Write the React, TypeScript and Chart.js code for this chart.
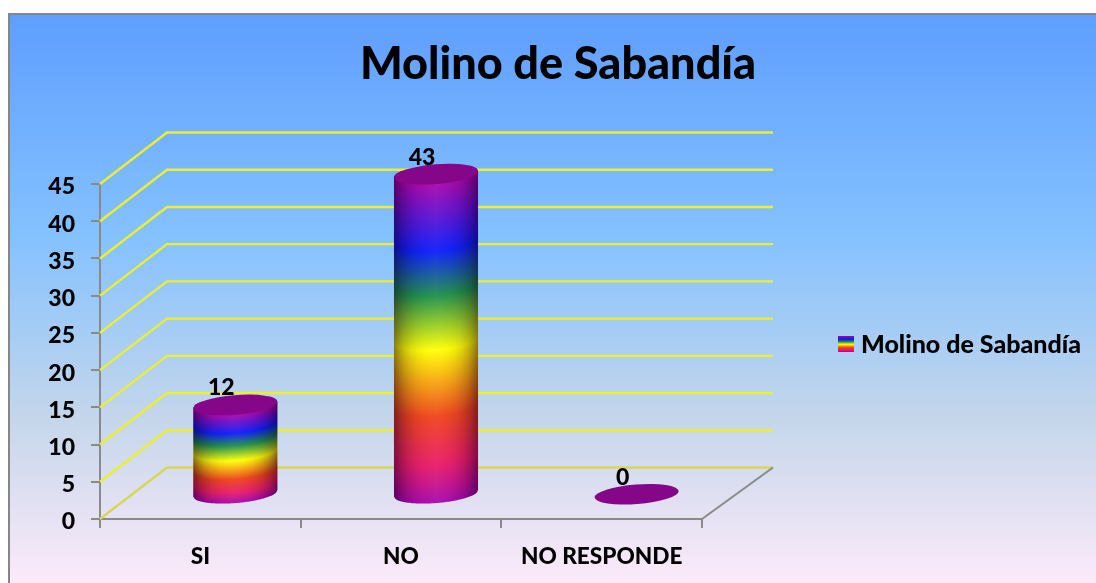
import React, { useEffect, useRef } from "react";
import { Chart, registerables } from "chart.js";

Chart.register(...registerables);

const categories = ["SI", "NO", "NO RESPONDE"];
const seriesName = "Molino de Sabandía";
const values = [12, 43, 0];
const rainbowOffsets = [0, 0.21, 0.35, 0.52, 0.73, 0.88, 1];
const rainbowColors = ["#A603AB", "#0819FB", "#1A8D48", "#FFFF00", "#EE3F17", "#E81766", "#A603AB"];
const backOffsets = [0, 0.39, 0.7, 1];
const backColors = ["#5E9EFF", "#85C2FF", "#C4D6EB", "#FFEBFA"];

const FONT = "Lato, Carlito, Calibri, sans-serif";
const GRAY = "#8a8a8a";
const DEPTH_X = 67;
const DEPTH_Y = 51.5;
const CYL_DX = 35;
const CYL_DY = 24.75;
const ELLIPSE_RY = 9.8;
const TILT = -0.08;

function rainbow(ctx: CanvasRenderingContext2D, y0: number, y1: number) {
  const g = ctx.createLinearGradient(0, y0, 0, y1);
  rainbowOffsets.forEach((o, i) => g.addColorStop(o, rainbowColors[i]));
  return g;
}

function ellipseYs(x: number, a: number, b: number, t: number) {
  const s = Math.sin(t), c = Math.cos(t);
  const A = (s * s) / (a * a) + (c * c) / (b * b);
  const B = 2 * x * c * s * (1 / (a * a) - 1 / (b * b));
  const C = x * x * ((c * c) / (a * a) + (s * s) / (b * b)) - 1;
  const d = Math.sqrt(Math.max(0, B * B - 4 * A * C));
  return { up: (-B - d) / (2 * A), low: (-B + d) / (2 * A) };
}

function drawCylinder(ctx: CanvasRenderingContext2D, cx: number, yTop: number, yBase: number, rx: number) {
  const a = rx, b = ELLIPSE_RY, t = TILT;
  const W = Math.sqrt(a * a * Math.cos(t) ** 2 + b * b * Math.sin(t) ** 2);
  if (yBase - yTop > 0.5) {
    ctx.save();
    ctx.beginPath();
    const N = 60;
    for (let i = 0; i <= N; i++) {
      const dx = -W + (2 * W * i) / N;
      const y = yTop + ellipseYs(dx, a, b, t).up;
      if (i === 0) ctx.moveTo(cx + dx, y); else ctx.lineTo(cx + dx, y);
    }
    for (let i = N; i >= 0; i--) {
      const dx = -W + (2 * W * i) / N;
      ctx.lineTo(cx + dx, yBase + ellipseYs(dx, a, b, t).low);
    }
    ctx.closePath();
    ctx.clip();
    const x0 = Math.floor(cx - W), x1 = Math.ceil(cx + W);
    for (let x = x0; x <= x1; x++) {
      const dx = Math.max(-W, Math.min(W, x + 0.5 - cx));
      const y0 = yTop + ellipseYs(dx, a, b, t).low;
      const y1 = yBase + ellipseYs(dx, a, b, t).low;
      ctx.fillStyle = rainbow(ctx, y0, y1);
      ctx.fillRect(x, y0 - 12, 1, y1 - y0 + 24);
      const k = Math.abs(dx) / W;
      ctx.fillStyle = `rgba(20,0,30,${0.5 * Math.pow(k, 2.6)})`;
      ctx.fillRect(x, y0 - 12, 1, y1 - y0 + 24);
      ctx.fillStyle = `rgba(255,255,255,${0.07 * (1 - k)})`;
      ctx.fillRect(x, y0 - 12, 1, y1 - y0 + 24);
    }
    ctx.restore();
  }
  ctx.beginPath();
  ctx.ellipse(cx, yTop, a, b, t, 0, Math.PI * 2);
  ctx.fillStyle = "#86068A";
  ctx.fill();
}

const scene3d = {
  id: "scene3d",
  beforeDraw(chart: any) {
    const ctx = chart.ctx;
    ctx.save();
    ctx.fillStyle = "#ffffff";
    ctx.fillRect(0, 0, chart.width, chart.height);
    const g = ctx.createLinearGradient(0, 15, 0, 590);
    backOffsets.forEach((o, i) => g.addColorStop(o, backColors[i]));
    ctx.fillStyle = g;
    ctx.fillRect(9, 14, chart.width, chart.height);
    ctx.fillStyle = "#868686";
    ctx.fillRect(8, 13, chart.width, 2);
    ctx.fillRect(8, 13, 2, chart.height);
    ctx.restore();
    chart.scales.y.getLabelItems(chart.chartArea).forEach((it: any) => {
      it.options.translation = [it.options.translation[0], it.options.translation[1] + 3];
    });
  },
  afterLayout(chart: any) {
    const lg = chart.legend;
    const h = lg.height;
    lg.left = 826.5; lg.right = chart.width;
    lg.top = 345 - h / 2; lg.bottom = lg.top + h;
    const tt = chart.titleBlock;
    tt.left = 20; tt.right = chart.width;
  },
  beforeDatasetsDraw(chart: any) {
    const ctx = chart.ctx;
    const { x, y } = chart.scales;
    ctx.save();
    ctx.lineWidth = 2.4;
    y.ticks.forEach((tk: any) => {
      const py = y.getPixelForValue(tk.value);
      ctx.strokeStyle = tk.value === 0 ? "#d8d65a" : "#eeee30";
      ctx.beginPath();
      ctx.moveTo(x.left, py);
      ctx.lineTo(x.left + DEPTH_X, py - DEPTH_Y);
      ctx.lineTo(x.right + DEPTH_X + 4, py - DEPTH_Y);
      ctx.stroke();
    });
    ctx.strokeStyle = GRAY;
    ctx.lineWidth = 2;
    ctx.beginPath();
    ctx.moveTo(x.right, y.bottom);
    ctx.lineTo(x.right + DEPTH_X + 4, y.bottom - DEPTH_Y);
    ctx.stroke();
    ctx.restore();
  },
  afterDatasetsDraw(chart: any) {
    const ctx = chart.ctx;
    const meta = chart.getDatasetMeta(0);
    meta.data.forEach((bar: any) => {
      drawCylinder(ctx, bar.x + CYL_DX, bar.y - CYL_DY, bar.base - CYL_DY, bar.width / 2);
    });
    ctx.save();
    ctx.fillStyle = "#000";
    ctx.font = `900 23px ${FONT}`;
    ctx.textAlign = "center";
    ctx.textBaseline = "middle";
    meta.data.forEach((bar: any, i: number) => {
      ctx.fillText(String(values[i]), bar.x + CYL_DX - 14, bar.y - CYL_DY - 17);
    });
    ctx.restore();
  },
  afterDraw(chart: any) {
    const ctx = chart.ctx;
    const h = chart.legend.legendHitBoxes[0];
    const cy = 344;
    ctx.save();
    ctx.fillStyle = rainbow(ctx, cy - 8, cy + 8);
    ctx.fillRect(h.left + 1.5, cy - 8, 16, 16);
    ctx.restore();
  },
};

export default function App() {
  const ref = useRef<HTMLCanvasElement>(null);
  useEffect(() => {
    const chart = new Chart(ref.current as HTMLCanvasElement, {
      type: "bar",
      data: {
        labels: categories,
        datasets: [{
          label: seriesName,
          data: values,
          backgroundColor: "rgba(0,0,0,0)",
          categoryPercentage: 1,
          barPercentage: 0.42,
        }],
      },
      plugins: [scene3d],
      options: {
        responsive: false,
        animation: false,
        layout: { padding: { left: 20, right: 194, top: 0, bottom: 0 } },
        plugins: {
          tooltip: { enabled: false },
          title: {
            display: true,
            text: seriesName,
            color: "#000",
            font: { family: FONT, size: 45, weight: "900" },
            padding: { top: 37, bottom: 93 },
          },
          legend: {
            display: true,
            position: "right",
            maxWidth: 200,
            labels: {
              boxWidth: 12,
              boxHeight: 12,
              color: "#000",
              font: { family: FONT, size: 25, weight: "900" },
              generateLabels: () => [{
                text: seriesName,
                fillStyle: "rgba(0,0,0,0)",
                strokeStyle: "rgba(0,0,0,0)",
                fontColor: "#000",
                lineWidth: 0,
                datasetIndex: 0,
              }],
            },
          },
        },
        scales: {
          x: {
            afterFit: (s: any) => { s.height = 64; },
            grid: { drawOnChartArea: false, drawTicks: true, tickLength: 9, color: GRAY, lineWidth: 2 },
            border: { color: GRAY, width: 2 },
            ticks: { color: "#000", padding: 15, maxRotation: 0, autoSkip: false, font: { family: FONT, size: 22.6, weight: "900" } },
          },
          y: {
            min: 0,
            max: 45,
            afterFit: (s: any) => { s.width = 80; },
            grid: { drawOnChartArea: false, drawTicks: true, tickLength: 9, color: GRAY, lineWidth: 2 },
            border: { color: GRAY, width: 2 },
            ticks: { stepSize: 5, color: "#000", padding: 16, font: { family: FONT, size: 23, weight: "900" } },
          },
        },
      } as any,
    });
    return () => chart.destroy();
  }, []);
  return <canvas ref={ref} width={1096} height={583} style={{ position: "absolute", left: 0, top: 0, display: "block" }} />;
}
